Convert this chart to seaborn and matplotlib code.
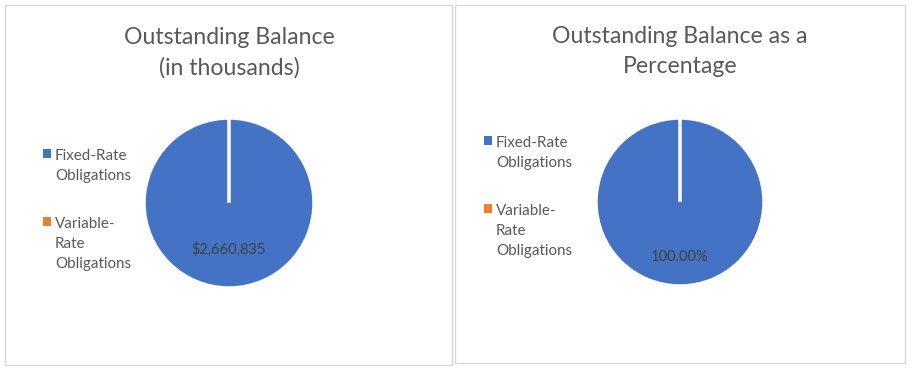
import numpy as np
import pandas as pd
import matplotlib
matplotlib.use("Agg")
import matplotlib.pyplot as plt
from matplotlib.patches import Rectangle
import seaborn as sns

# ---- data ----
categories = ["Fixed-Rate\nObligations", "Variable-\nRate\nObligations"]
balance_thousands = [2660835, 0]
balance_pct = [100.0, 0.0]
title_left = ["Outstanding Balance", "(in thousands)"]
title_right = ["Outstanding Balance as a", "Percentage"]

sns.set_theme(style="white")
plt.rcParams['font.family'] = ['Lato', 'DejaVu Sans']
palette = sns.color_palette(["#4472C4", "#ED7D31"])
TXT = "#595959"

W, H = 914, 370
fig = plt.figure(figsize=(W / 100, H / 100), dpi=100)
fig.patch.set_facecolor("white")


def fx(px):
    return px / W


def fy(py):
    return 1 - py / H


# panel borders
for (x0, y0, x1, y1) in [(5, 5, 452, 365), (455, 5, 905, 363)]:
    fig.add_artist(Rectangle((fx(x0), fy(y1)), (x1 - x0) / W, (y1 - y0) / H,
                             transform=fig.transFigure, fill=False,
                             edgecolor="#d9d9d9", linewidth=1))


def panel(cx, cy, r, values, autopct, pctdist, title_lines, base_y, leg_x, leg_y):
    ax = fig.add_axes([fx(cx - r), fy(cy + r), 2 * r / W, 2 * r / H])
    wedges, texts, autotexts = ax.pie(
        values, colors=palette, startangle=90, counterclock=False,
        autopct=autopct, pctdistance=pctdist,
        wedgeprops=dict(edgecolor="white", linewidth=2.5),
        textprops=dict(color="#404040", fontsize=10.5))
    ax.set_xlim(-1.0, 1.0)
    ax.set_ylim(-1.0, 1.0)
    ax.set_aspect("auto")
    for line, by in zip(title_lines, base_y):
        fig.text(fx(cx), fy(by), line, ha="center", va="baseline",
                 fontsize=16.6, color=TXT)
    handles = [Rectangle((0, 0), 1, 1, facecolor=c, edgecolor="none") for c in palette]
    leg = ax.legend(handles, categories, loc="upper left",
                    bbox_to_anchor=(fx(leg_x), fy(leg_y)),
                    bbox_transform=fig.transFigure, frameon=False,
                    handlelength=0.55, handleheight=0.55, handletextpad=0.25,
                    labelspacing=2.2, fontsize=10.9, borderpad=0, borderaxespad=0)
    for t in leg.get_texts():
        t.set_color(TXT)
        t.set_linespacing(1.58)
    # align each legend marker with the first line of its label
    for col in leg._legend_handle_box.get_children():
        for item in col.get_children():
            item.align = "top"
    return ax


total = sum(balance_thousands)
panel(229, 203, 85, balance_thousands,
      lambda p: f"${p * total / 100:,.0f}" if p > 0 else "", 0.54,
      title_left, [44, 75], 43, 149)
panel(680, 202, 84, balance_pct,
      lambda p: f"{p:.2f}%" if p > 0 else "", 0.65,
      title_right, [43, 73], 484, 136)

fig.savefig("out.png", dpi=100, facecolor="white")
